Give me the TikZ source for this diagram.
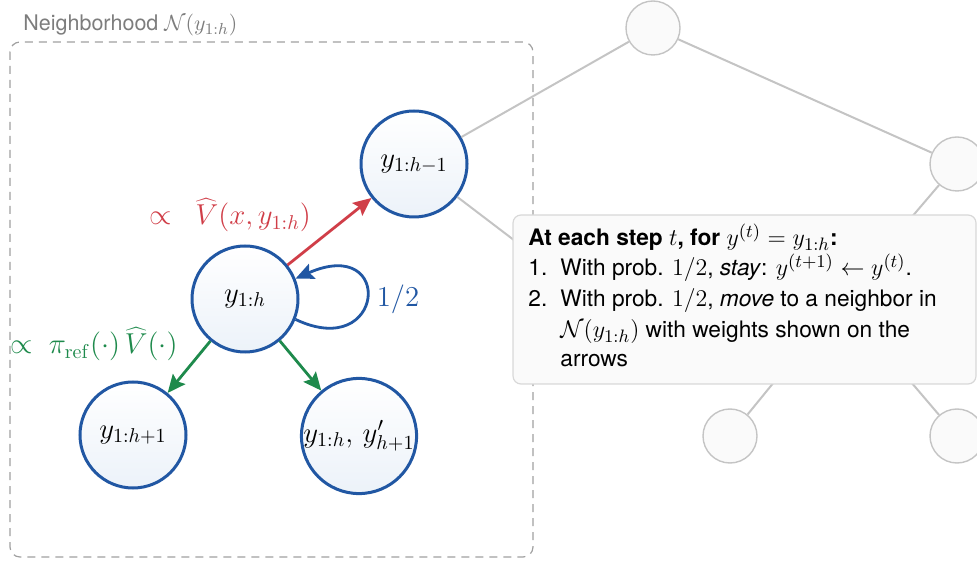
\documentclass[tikz,border=0pt]{standalone}
\usepackage[no-math]{fontspec}
\setsansfont{TeX Gyre Heros}
\usetikzlibrary{arrows.meta}

\definecolor{nodeblue}{RGB}{33,87,163}
\definecolor{nodefill}{RGB}{236,242,249}
\definecolor{arrred}{RGB}{208,62,72}
\definecolor{arrgreen}{RGB}{30,138,76}
\definecolor{treeline}{RGB}{196,196,196}
\definecolor{treefill}{RGB}{250,250,250}
\definecolor{boxline}{RGB}{216,216,216}
\definecolor{boxfill}{RGB}{250,250,250}
\definecolor{hoodgrey}{RGB}{160,160,160}
\definecolor{labelgrey}{RGB}{125,125,125}

% formulas in the rule box are set a little larger than the text
\newcommand{\boxmath}[1]{{\fontsize{12.5}{14}\selectfont$#1$}}

\tikzset{
  hoodnode/.style={circle, draw=nodeblue, line width=1.5pt, top color=white,
    bottom color=nodefill, minimum size=53pt, inner sep=0pt,
    font=\fontsize{14.5}{17}\selectfont},
  treenode/.style={circle, draw=treeline, line width=0.7pt, fill=treefill,
    minimum size=27pt, inner sep=0pt},
  treeedge/.style={draw=treeline, line width=1pt},
  walkarrow/.style={line width=1.4pt, -{Stealth[length=9pt,width=8pt,inset=1.5pt]}},
  weight/.style={font=\fontsize{14}{17}\selectfont, anchor=base, inner sep=0pt},
  boxtext/.style={font=\sffamily\fontsize{11.35}{13}\selectfont, anchor=base west, inner sep=0pt},
}

\begin{document}
\begin{tikzpicture}[x=0.5pt, y=-0.5pt]
\clip (0,0) rectangle (977,565);

% background search tree
\node[treenode] (root)  at (653,28)  {};
\node[treenode] (right) at (957,164) {};
\node[treenode] (hidA)  at (590,298) {};
\node[treenode] (hidB)  at (841,300) {};
\node[treenode] (leafL) at (730,436) {};
\node[treenode] (leafR) at (957,436) {};

% neighborhood states
\node[hoodnode] (parent) at (414,164) {$y_{1:h-1}$};
\node[hoodnode] (cur)    at (245,299) {$y_{1:h}$};
\node[hoodnode] (child)  at (133,435) {$y_{1:h+1}$};
\node[hoodnode] (sib)    at (359,436) {$y_{1:h},\, y'_{h+1}$};

\draw[treeedge] (root) -- (parent);
\draw[treeedge] (root) -- (right);
\draw[treeedge] (right) -- (hidB);
\draw[treeedge] (hidB) -- (leafL);
\draw[treeedge] (hidB) -- (leafR);
\draw[treeedge] (parent) -- (hidA);

% neighborhood frame
\draw[hoodgrey, dash pattern=on 4pt off 3pt, line width=0.6pt, rounded corners=5pt]
  (10,42) rectangle (533,557);
\node[anchor=base west, inner sep=0pt, text=labelgrey,
  font=\sffamily\fontsize{10.75}{13}\selectfont] (hoodlabel) at (23,31)
  {Neighborhood $\mathcal{N}(y_{1:h})$};

% rule box
\draw[boxline, fill=boxfill, line width=0.6pt, rounded corners=4pt]
  (513,215) rectangle (976,384);
\node[boxtext] (l1) at (528,246) {\textbf{At each step \boxmath{t}, for \boxmath{y^{(t)} = y_{1:h}}:}};
\node[boxtext] (n1) at (528,276) {1.};
\node[boxtext] (l2) at (560,276) {With prob. \boxmath{1/2}, \textit{stay}: \boxmath{y^{(t+1)} \leftarrow y^{(t)}}.};
\node[boxtext] (n2) at (528,307) {2.};
\node[boxtext] (l3) at (560,307) {With prob. \boxmath{1/2}, \textit{move} to a neighbor in};
\node[boxtext] (l4) at (560,338) {\boxmath{\mathcal{N}(y_{1:h})} with weights shown on the};
\node[boxtext] (l5) at (560,367) {arrows};

% moves of the walk
\draw[walkarrow, arrred] (cur) -- (parent);
\draw[walkarrow, arrgreen] (cur) -- (child);
\draw[walkarrow, arrgreen] (cur) -- (sib);
\draw[walkarrow, nodeblue] (cur.-22) .. controls (385,362) and (395,235) .. (cur.22);

\node[weight, text=arrred]   (wred)   at (230,225) {$\propto\;\;\widehat{V}(x, y_{1:h})$};
\node[weight, text=arrgreen] (wgreen) at (94,354)  {$\propto\;\pi_{\mathrm{ref}}(\cdot)\,\widehat{V}(\cdot)$};
\node[weight, text=nodeblue] (wstay)  at (398,307) {$1/2$};
\end{tikzpicture}
\end{document}
